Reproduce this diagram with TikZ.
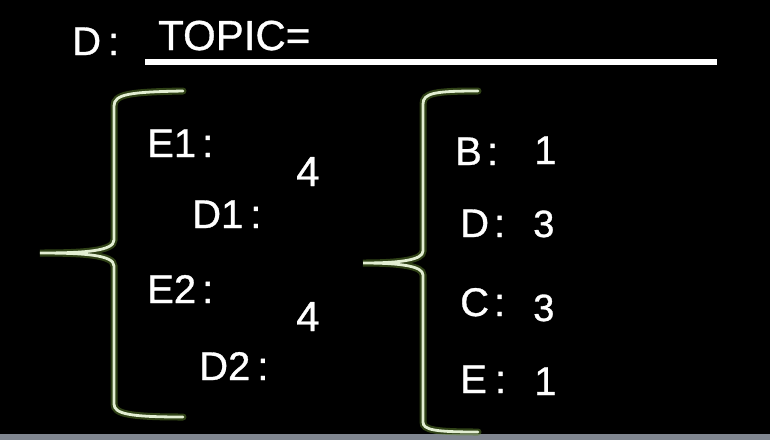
\documentclass[tikz,border=0pt]{standalone}
\usepackage{fontspec}
\setmainfont{Liberation Sans}[FakeBold=0.8]
\newfontfamily\lblfont{Liberation Sans}[FakeBold=0.8]
\definecolor{glowgreen}{RGB}{95,130,45}
\definecolor{bracecore}{RGB}{226,238,210}
\definecolor{stripgray}{RGB}{128,134,144}
\tikzset{
  lbl/.style={text=white, inner sep=0pt, anchor=base west, font=\lblfont\fontsize{40}{48}\selectfont},
  numbig/.style={lbl, font=\lblfont\fontsize{40}{48}\selectfont},
  numsmall/.style={lbl, font=\lblfont\fontsize{38}{46}\selectfont},
  braceglow/.style={draw=glowgreen, line width=7pt, opacity=0.5, line cap=round},
  bracemain/.style={draw=bracecore, line width=2.8pt, line cap=round}
}
\begin{document}
\begin{tikzpicture}[x=1pt, y=-1pt]

    \fill[black] (0,0) rectangle (770,440);
    \useasboundingbox (0,0) rectangle (770,440);
    \fill[stripgray] (0,434) rectangle (770,440);

    % heading
    \node [lbl] (dhead) at (72,55) {D\kern7pt:};
    \node [lbl, font=\lblfont\fontsize{42}{50}\selectfont] (topic) at (158,50) {TOPIC=};
    \coordinate (lineL) at (145,62);
    \coordinate (lineR) at (717,62);
    \draw [white, line width=5.5pt] (lineL) -- (lineR);

    % left brace
    \foreach \sty in {braceglow, bracemain}
      \draw [\sty] (183,91) .. controls (130,92) and (114,94) .. (114,106)
        -- (114,240) .. controls (114,251) and (85,253) .. (40,253)
        .. controls (85,253) and (114,255) .. (114,266)
        -- (114,404) .. controls (114,414) and (130,417) .. (183,417);

    % right brace
    \foreach \sty in {braceglow, bracemain}
      \draw [\sty] (478,91) .. controls (435,91) and (423,93) .. (423,104)
        -- (423,251) .. controls (423,260) and (400,263) .. (363,263)
        .. controls (400,263) and (423,266) .. (423,275)
        -- (423,422) .. controls (423,430) and (435,432) .. (478,432);

    % left column
    \node [lbl] (e1) at (147,157) {E1\kern6pt:};
    \node [lbl] (d1) at (192,228) {D1\kern7pt:};
    \node [lbl, font=\lblfont\fontsize{42}{50}\selectfont] (fourA) at (296,186) {4};
    \node [lbl] (e2) at (147,303) {E2\kern6pt:};
    \node [lbl] (d2) at (199,380) {D2\kern7pt:};
    \node [lbl, font=\lblfont\fontsize{42}{50}\selectfont] (fourB) at (296,331) {4};

    % right column
    \node [lbl] (b) at (455,165) {B\kern5pt:};
    \node [lbl] (d) at (460,237) {D\kern5pt:};
    \node [lbl] (c) at (460,316) {C\kern5pt:};
    \node [lbl] (e) at (460,393) {E\kern8pt:};
    \node [numbig] (oneA) at (534,164) {1};
    \node [numsmall] (threeA) at (533,237) {3};
    \node [numsmall] (threeB) at (533,321) {3};
    \node [numbig] (oneB) at (534,395) {1};

\end{tikzpicture}
\end{document}
